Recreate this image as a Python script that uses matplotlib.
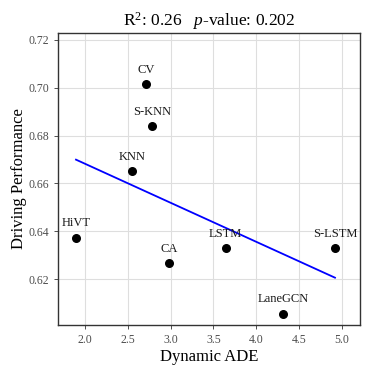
import matplotlib
matplotlib.use("Agg")
import matplotlib.pyplot as plt
import numpy as np

models = ["CV", "S-KNN", "KNN", "HiVT", "LSTM", "S-LSTM", "CA", "LaneGCN"]
dynamic_ade = [2.71, 2.786, 2.552, 1.895, 3.642, 4.918, 2.98, 4.311]
driving_perf = [0.7016, 0.684, 0.6652, 0.6373, 0.6328, 0.6328, 0.6266, 0.6056]
xticks = [2.0, 2.5, 3.0, 3.5, 4.0, 4.5, 5.0]
yticks = [0.62, 0.64, 0.66, 0.68, 0.70, 0.72]

plt.rcParams['font.family'] = ['Liberation Serif', 'DejaVu Serif']
plt.rcParams['mathtext.fontset'] = 'custom'
plt.rcParams['mathtext.rm'] = 'Liberation Serif'
plt.rcParams['mathtext.it'] = 'Liberation Serif:italic'

fig = plt.figure(figsize=(3.74, 3.74), dpi=100)
ax = fig.add_axes([58/374, 1-325/374, (360-58)/374, (325-33)/374])

x = np.array(dynamic_ade)
y = np.array(driving_perf)
ax.scatter(x, y, s=30, color='black', zorder=3)
for m, xi, yi in zip(models, x, y):
    ax.annotate(m, (xi, yi), xytext=(0, 6), textcoords='offset points',
                ha='center', va='bottom', fontsize=9, color='#1a1a1a')

slope, inter = np.polyfit(x, y, 1)
xs = np.array([x.min(), x.max()])
ax.plot(xs, slope*xs + inter, color='blue', lw=1.3, zorder=2)

ax.set_xlim(1.685, 5.21)
ax.set_ylim(0.6008, 0.7229)
ax.set_xticks(xticks)
ax.set_xticklabels([f"{v:.1f}" for v in xticks])
ax.set_yticks(yticks)
ax.set_yticklabels([f"{v:.2f}" for v in yticks])
ax.grid(True, color='#dedede', lw=0.8)
ax.set_axisbelow(True)
ax.tick_params(colors='#333333', labelcolor='#4d4d4d', labelsize=8.5, length=3, width=0.6)
for s in ax.spines.values():
    s.set_color('#333333')
    s.set_linewidth(1.0)

ax.set_xlabel("Dynamic ADE", fontsize=12, color='black', labelpad=2)
ax.set_ylabel("Driving Performance", fontsize=12, color='black', labelpad=1)
ax.set_title(r"R$^2$: 0.26   $p$-value: 0.202", fontsize=12.5, pad=5)

fig.savefig("out.png", dpi=100)
